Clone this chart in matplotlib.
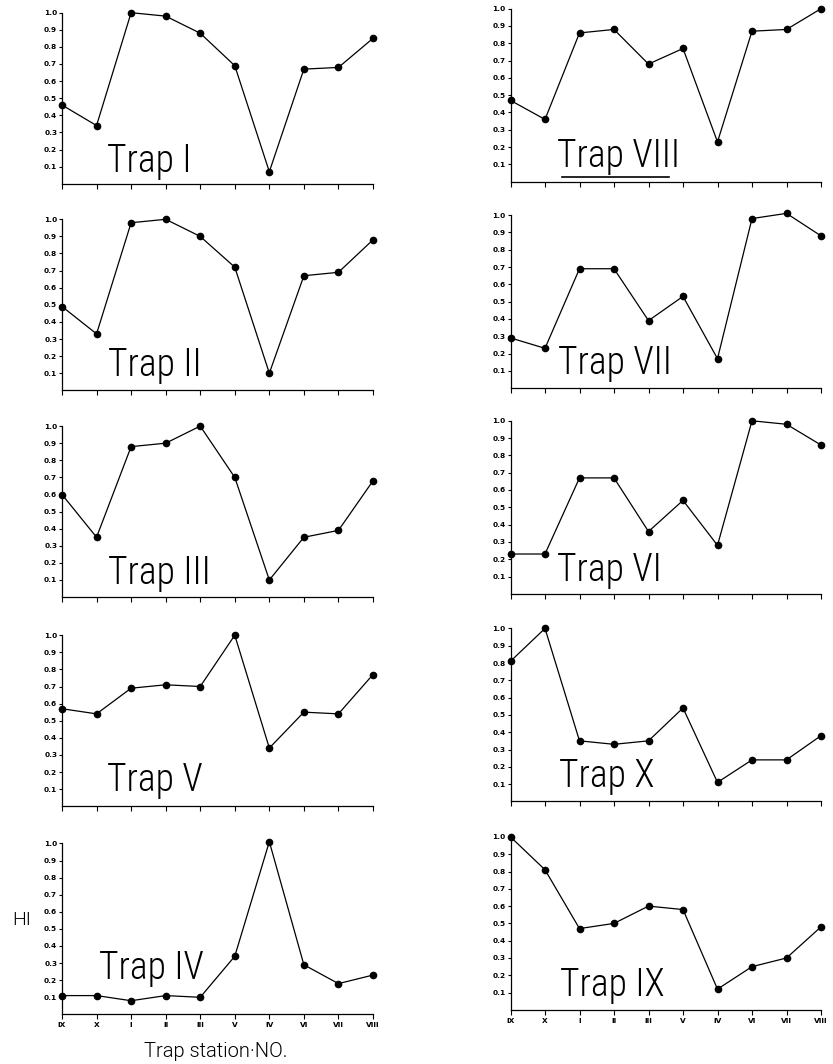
import matplotlib.pyplot as plt

# trap station order along the x axis
stations = ['IX', 'X', 'I', 'II', 'III', 'V', 'IV', 'VI', 'VII', 'VIII']

# HI values per trap, read station by station
trap_1 = [0.46, 0.34, 1.00, 0.98, 0.88, 0.69, 0.07, 0.67, 0.68, 0.85]
trap_2 = [0.49, 0.33, 0.98, 1.00, 0.90, 0.72, 0.10, 0.67, 0.69, 0.88]
trap_3 = [0.60, 0.35, 0.88, 0.90, 1.00, 0.70, 0.10, 0.35, 0.39, 0.68]
trap_5 = [0.57, 0.54, 0.69, 0.71, 0.70, 1.00, 0.34, 0.55, 0.54, 0.77]
trap_4 = [0.11, 0.11, 0.08, 0.11, 0.10, 0.34, 1.01, 0.29, 0.18, 0.23]
trap_8 = [0.47, 0.36, 0.86, 0.88, 0.68, 0.77, 0.23, 0.87, 0.88, 1.00]
trap_7 = [0.29, 0.23, 0.69, 0.69, 0.39, 0.53, 0.17, 0.98, 1.01, 0.88]
trap_6 = [0.23, 0.23, 0.67, 0.67, 0.36, 0.54, 0.28, 1.00, 0.98, 0.86]
trap_10 = [0.81, 1.00, 0.35, 0.33, 0.35, 0.54, 0.11, 0.24, 0.24, 0.38]
trap_9 = [1.00, 0.81, 0.47, 0.50, 0.60, 0.58, 0.12, 0.25, 0.30, 0.48]

left_names = ['Trap I', 'Trap II', 'Trap III', 'Trap V', 'Trap IV']
left_values = [trap_1, trap_2, trap_3, trap_5, trap_4]
right_names = ['Trap VIII', 'Trap VII', 'Trap VI', 'Trap X', 'Trap IX']
right_values = [trap_8, trap_7, trap_6, trap_10, trap_9]

W, H = 833, 1064
fig = plt.figure(figsize=(W / 100, H / 100), dpi=100)

# layout in pixels: (axes left, axes width, baseline of each row, axes height)
columns = [
    (62, 311, [183.7, 390.3, 597.1, 806.2, 1014.4], 171,
     left_names, left_values, [(1.30, 0.07), (1.33, 0.086), (1.32, 0.077), (1.29, 0.089), (1.07, 0.205)]),
    (510.5, 310.5, [181.7, 388.1, 593.8, 801.4, 1009.9], 173,
     right_names, right_values, [(1.34, 0.087), (1.39, 0.082), (1.34, 0.076), (1.41, 0.082), (1.43, 0.082)]),
]

label_font = ['Roboto Condensed', 'DejaVu Sans']
yticks = [i / 10 for i in range(1, 11)]

for x0, w, zeros, h, names, values, text_pos in columns:
    for row in range(5):
        ax = fig.add_axes([x0 / W, 1 - zeros[row] / H, w / W, h / H])
        ax.plot(range(len(stations)), values[row], color='black', lw=0.9,
                marker='o', ms=4.5, clip_on=False)
        ax.set_xlim(0, len(stations) - 1)
        ax.set_ylim(0, 1.0)
        for s in ['top', 'right']:
            ax.spines[s].set_visible(False)
        for s in ['left', 'bottom']:
            ax.spines[s].set_linewidth(0.9)
        ax.set_yticks(yticks)
        ax.set_yticklabels(['%.1f' % t for t in yticks], fontsize=5.3, fontweight='bold')
        ax.set_xticks(range(len(stations)))
        if row == 4:
            ax.set_xticklabels(stations, fontsize=5.3, fontweight='bold')
        else:
            ax.set_xticklabels([])
        ax.tick_params(axis='y', direction='out', length=2.5, width=0.8, pad=1)
        ax.tick_params(axis='x', direction='out', length=3.5, width=0.8, pad=2)
        tx, ty = text_pos[row]
        ax.text(tx, ty, names[row], fontsize=27, family=label_font, fontweight=300,
                ha='left', va='baseline')
        if names[row] == 'Trap VIII':
            ax.axhline(0.029, xmin=0.165, xmax=0.51, color='black', lw=1.2)

fig.text(22 / W, 1 - 920 / H, 'HI', fontsize=14, family=['Roboto', 'DejaVu Sans'],
         fontweight=300, ha='center', va='center')
fig.text(216 / W, 1 - 1057 / H, 'Trap station\u00b7NO.', fontsize=14.5,
         family=['Roboto', 'DejaVu Sans'], fontweight=300, ha='center', va='baseline')

fig.savefig('out.png', dpi=100)
